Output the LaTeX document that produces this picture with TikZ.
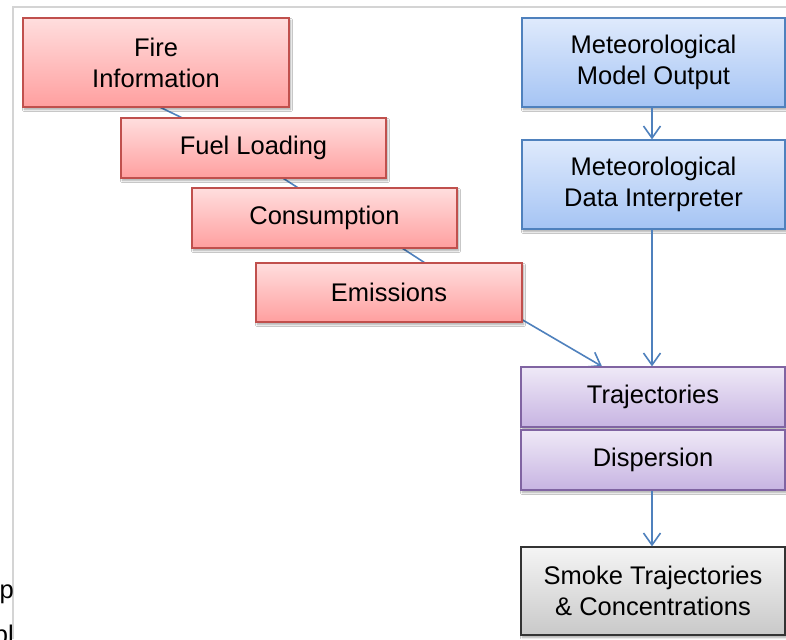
\documentclass[tikz,border=0pt]{standalone}
\usepackage{fontspec}
\setmainfont{Liberation Sans}
\usetikzlibrary{arrows.meta,backgrounds,shadows.blur,calc}
\definecolor{redtop}{HTML}{FFDEDE}
\definecolor{redbot}{HTML}{FF9F9F}
\definecolor{redline}{HTML}{C0504D}
\definecolor{bluetop}{HTML}{DFEAFC}
\definecolor{bluebot}{HTML}{A5C4F4}
\definecolor{blueline}{HTML}{4F81BD}
\definecolor{purtop}{HTML}{EFE9F7}
\definecolor{purbot}{HTML}{C7B4E2}
\definecolor{purline}{HTML}{8064A2}
\definecolor{graytop}{HTML}{F4F4F4}
\definecolor{graybot}{HTML}{C9C9C9}
\definecolor{frameg}{HTML}{D4D4D4}
\definecolor{conn}{HTML}{4F81BD}
\tikzset{
  box/.style={draw, line width=1.2pt, inner sep=0pt, align=center,
    font=\fontsize{25.5}{31}\selectfont,
    blur shadow={shadow xshift=1.5pt, shadow yshift=-2.5pt, shadow blur steps=6, shadow opacity=35}},
  redbox/.style={box, draw=redline, top color=redtop, bottom color=redbot},
  bluebox/.style={box, draw=blueline, top color=bluetop, bottom color=bluebot},
  purbox/.style={box, draw=purline, top color=purtop, bottom color=purbot},
  graybox/.style={box, draw=black!80, top color=graytop, bottom color=graybot},
  connline/.style={draw=conn, line width=1.6pt},
  arr/.style={connline, -{Straight Barb[length=12pt,width=17pt,line width=1.6pt]}},
  frag/.style={inner sep=0pt, anchor=base east, font=\fontsize{25.5}{31}\selectfont}
}
\begin{document}
\begin{tikzpicture}[x=1pt,y=-1pt]
\useasboundingbox (0,0) rectangle (786,639);
% red chain
\node[redbox, minimum width=266pt, minimum height=89pt] (fire) at (156,62.5) {Fire\\Information};
\node[redbox, minimum width=265pt, minimum height=60pt] (fuel) at (253.5,148) {Fuel Loading};
\node[redbox, minimum width=265pt, minimum height=60pt] (cons) at (324.5,218) {Consumption};
\node[redbox, minimum width=266pt, minimum height=59pt] (emis) at (389,292.5) {Emissions};
% blue chain
\node[bluebox, minimum width=263pt, minimum height=89pt] (model) at (653.5,62.5) {Meteorological\\Model Output};
\node[bluebox, minimum width=263pt, minimum height=89pt] (interp) at (653.5,184.5) {Meteorological\\Data Interpreter};
% purple
\node[purbox, minimum width=264pt, minimum height=60pt] (traj) at (653,397) {Trajectories};
\node[purbox, minimum width=264pt, minimum height=60pt] (disp) at (653,460) {Dispersion};
% gray
\node[graybox, minimum width=264pt, minimum height=88pt] (smoke) at (653,591) {Smoke Trajectories\\\& Concentrations};
% fragments outside the frame
\node[frag] (fragA) at (14,598) {p};
\node[frag] (fragB) at (14,643) {bl};
% background, frame and connectors behind boxes
\begin{scope}[on background layer]
\fill[white] (0,0) rectangle (786,639);
\draw[frameg, line width=2pt] (12.5,639) -- (12.5,7) -- (786,7);
\draw[connline] ($(fire.south)+(-16,-10)$) -- ($(fuel.north)+(-51.5,10)$);
\draw[connline] ($(fuel.south)+(14.5,-10)$) -- ($(cons.north)+(-11.5,10)$);
\draw[connline] ($(cons.south)+(63,-10)$) -- ($(emis.north)+(49,9)$);
\draw[arr] ($(emis.south east)+(-17,-12.6)$) -- ($(traj.north)+(-51,0)$);
\end{scope}
\draw[arr] ($(model.south)+(-1.5,0)$) -- ($(model.south |- interp.north)+(-1.5,0)$);
\draw[arr] ($(interp.south)+(-1.5,0)$) -- ($(interp.south |- traj.north)+(-1.5,0)$);
\draw[arr] ($(disp.south)+(-1,0)$) -- ($(disp.south |- smoke.north)+(-1,0)$);
\end{tikzpicture}
\end{document}
